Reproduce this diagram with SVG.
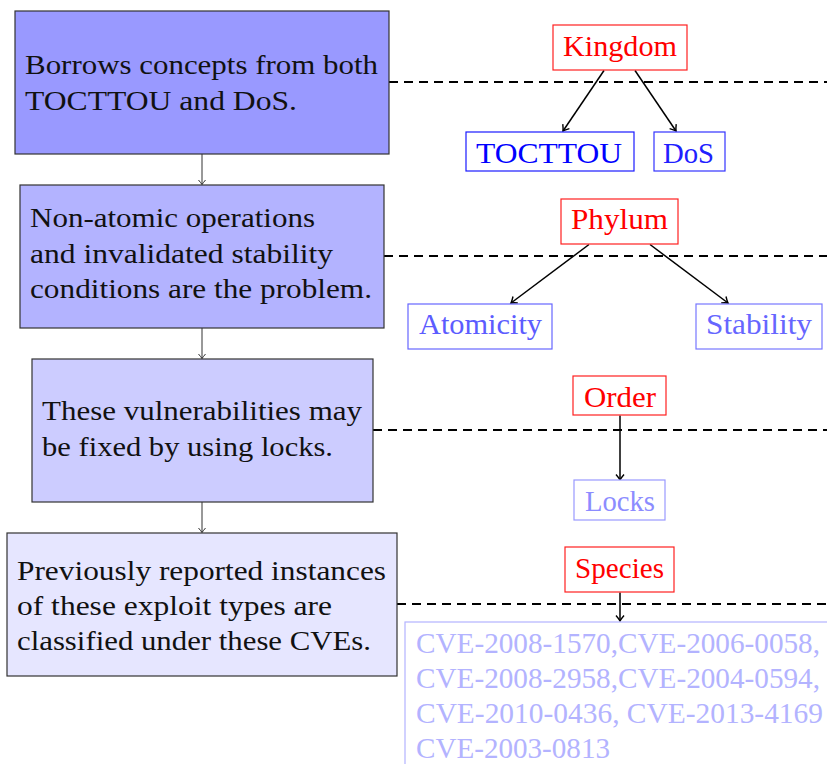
<svg xmlns="http://www.w3.org/2000/svg" width="827" height="764" viewBox="0 0 827 764" font-family="'Liberation Serif', serif">
<defs>
<style>
text{font-family:'Liberation Serif', serif;}
.lt{font-size:27px;fill:#111;}
.rt{font-size:30px;}
.lbox{stroke:#333;stroke-width:1.2;}
.red{fill:#fff;stroke:#ff2020;stroke-width:1.2;}
.blu{fill:#fff;stroke-width:1.2;}
.dash{stroke:#000;stroke-width:2;stroke-dasharray:9 6;fill:none;}
.la{stroke:#333;stroke-width:1;fill:none;marker-end:url(#ha);}
.ra{stroke:#000;stroke-width:1.5;fill:none;marker-end:url(#hb);}
</style>
<marker id="ha" markerUnits="userSpaceOnUse" viewBox="-6 -5 7 10" refX="0" refY="0" markerWidth="7" markerHeight="10" orient="auto" overflow="visible">
<path d="M-4.5,-3.5 Q-1.5,-1 0,0 Q-1.5,1 -4.5,3.5" fill="none" stroke="#333" stroke-width="1"/>
</marker>
<marker id="hb" markerUnits="userSpaceOnUse" viewBox="-7 -5 8 10" refX="0" refY="0" markerWidth="8" markerHeight="10" orient="auto" overflow="visible">
<path d="M-5.5,-4 Q-2,-1 0,0 Q-2,1 -5.5,4" fill="none" stroke="#000" stroke-width="1.4"/>
</marker>
</defs>
<rect width="827" height="764" fill="#fff"/>

<g id="connectors">
<line class="dash" x1="389" y1="82" x2="827" y2="82"/>
<line class="dash" x1="384" y1="256" x2="827" y2="256"/>
<line class="dash" x1="373" y1="430" x2="827" y2="430"/>
<line class="dash" x1="397" y1="604" x2="827" y2="604"/>
<line class="la" x1="202" y1="154" x2="202" y2="184.5"/>
<line class="la" x1="202" y1="328" x2="202" y2="358.5"/>
<line class="la" x1="202" y1="502" x2="202" y2="532.5"/>
<line class="ra" x1="604" y1="70.5" x2="563" y2="131"/>
<line class="ra" x1="635" y1="70.5" x2="676" y2="131"/>
<line class="ra" x1="589" y1="244.5" x2="511" y2="303"/>
<line class="ra" x1="650" y1="244.5" x2="728" y2="303"/>
<line class="ra" x1="620" y1="415.5" x2="620" y2="480"/>
<line class="ra" x1="620" y1="592.5" x2="620" y2="621"/>
</g>

<g id="desc1">
<rect class="lbox" x="15" y="11" width="374" height="143" fill="#9999ff"/>
<text class="lt" x="25" y="74" textLength="353" lengthAdjust="spacingAndGlyphs">Borrows concepts from both</text>
<text class="lt" x="25" y="110" textLength="272" lengthAdjust="spacingAndGlyphs">TOCTTOU and DoS.</text>
</g>
<g id="desc2">
<rect class="lbox" x="20" y="185" width="364" height="143" fill="#b3b3ff"/>
<text class="lt" x="30" y="227" textLength="285" lengthAdjust="spacingAndGlyphs">Non-atomic operations</text>
<text class="lt" x="30" y="262.5" textLength="303" lengthAdjust="spacingAndGlyphs">and invalidated stability</text>
<text class="lt" x="30" y="298" textLength="342" lengthAdjust="spacingAndGlyphs">conditions are the problem.</text>
</g>
<g id="desc3">
<rect class="lbox" x="32" y="359" width="341" height="143" fill="#ccccff"/>
<text class="lt" x="42" y="420" textLength="320" lengthAdjust="spacingAndGlyphs">These vulnerabilities may</text>
<text class="lt" x="42" y="456" textLength="291" lengthAdjust="spacingAndGlyphs">be fixed by using locks.</text>
</g>
<g id="desc4">
<rect class="lbox" x="7" y="533" width="390" height="143" fill="#e6e6ff"/>
<text class="lt" x="17" y="580" textLength="369" lengthAdjust="spacingAndGlyphs">Previously reported instances</text>
<text class="lt" x="17" y="615" textLength="315" lengthAdjust="spacingAndGlyphs">of these exploit types are</text>
<text class="lt" x="17" y="650" textLength="354" lengthAdjust="spacingAndGlyphs">classified under these CVEs.</text>
</g>

<g id="kingdom">
<rect class="red" x="553" y="25" width="134" height="45"/>
<text class="rt" x="563" y="56" fill="#ff0000" textLength="114" lengthAdjust="spacingAndGlyphs">Kingdom</text>
</g>
<g id="toctou">
<rect class="blu" x="466" y="132" width="168" height="39" stroke="#1a1aff"/>
<text class="rt" x="476" y="163" fill="#0000ff" textLength="146" lengthAdjust="spacingAndGlyphs">TOCTTOU</text>
</g>
<g id="dos">
<rect class="blu" x="654" y="132" width="71" height="39" stroke="#3333ff"/>
<text class="rt" x="663" y="163" fill="#2020ff" textLength="51" lengthAdjust="spacingAndGlyphs">DoS</text>
</g>
<g id="phylum">
<rect class="red" x="561" y="199" width="117" height="45"/>
<text class="rt" x="571" y="229" fill="#ff0000" textLength="97" lengthAdjust="spacingAndGlyphs">Phylum</text>
</g>
<g id="atomicity">
<rect class="blu" x="408" y="304" width="144" height="45" stroke="#6666ff"/>
<text class="rt" x="419" y="334" fill="#5c5cff" textLength="123" lengthAdjust="spacingAndGlyphs">Atomicity</text>
</g>
<g id="stability">
<rect class="blu" x="696" y="304" width="126" height="45" stroke="#7777ff"/>
<text class="rt" x="706" y="334" fill="#6666ff" textLength="106" lengthAdjust="spacingAndGlyphs">Stability</text>
</g>
<g id="order">
<rect class="red" x="573" y="376" width="93" height="39"/>
<text class="rt" x="584" y="407" fill="#ff0000" textLength="72" lengthAdjust="spacingAndGlyphs">Order</text>
</g>
<g id="locks">
<rect class="blu" x="574" y="480" width="91" height="40" stroke="#9999ff"/>
<text class="rt" x="585" y="511" fill="#8c8cff" textLength="70" lengthAdjust="spacingAndGlyphs">Locks</text>
</g>
<g id="species">
<rect class="red" x="565" y="547" width="109" height="45"/>
<text class="rt" x="575" y="578" fill="#ff0000" textLength="89" lengthAdjust="spacingAndGlyphs">Species</text>
</g>
<g id="cves">
<rect class="blu" x="405" y="622" width="440" height="160" stroke="#b3b3ff"/>
<text class="rt" x="416" y="653" fill="#b3b3ff" textLength="404" lengthAdjust="spacingAndGlyphs">CVE-2008-1570,CVE-2006-0058,</text>
<text class="rt" x="416" y="688" fill="#b3b3ff" textLength="404" lengthAdjust="spacingAndGlyphs">CVE-2008-2958,CVE-2004-0594,</text>
<text class="rt" x="416" y="723" fill="#b3b3ff" textLength="407" lengthAdjust="spacingAndGlyphs">CVE-2010-0436, CVE-2013-4169</text>
<text class="rt" x="416" y="758" fill="#b3b3ff" textLength="194" lengthAdjust="spacingAndGlyphs">CVE-2003-0813</text>
</g>
</svg>
